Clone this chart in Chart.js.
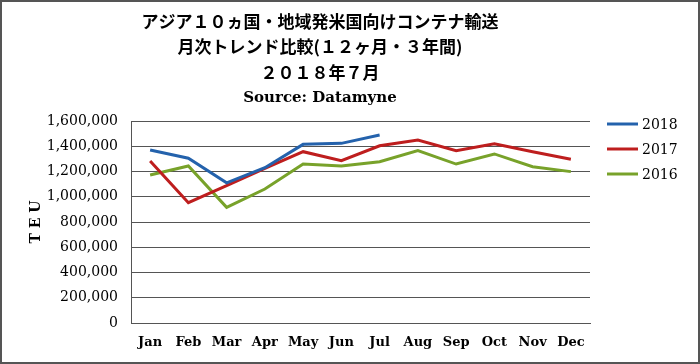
<!DOCTYPE html>
<html>
<head>
<meta charset="utf-8">
<script src="https://cdn.jsdelivr.net/npm/chart.js@4"></script>
<style>
    body { margin: 0; background: #fff; }
    #wrap { width: 700px; height: 364px; }
</style>
</head>
<body>
<div id="wrap"><canvas id="trendChart" width="700" height="364"></canvas></div>
<script>
const months = ['Jan', 'Feb', 'Mar', 'Apr', 'May', 'Jun', 'Jul', 'Aug', 'Sep', 'Oct', 'Nov', 'Dec'];
const values2018 = [1370000, 1305000, 1110000, 1230000, 1415000, 1423000, 1489000, null, null, null, null, null];
const values2017 = [1283000, 953000, 1088000, 1225000, 1357000, 1286000, 1404000, 1450000, 1365000, 1420000, 1357000, 1297000];
const values2016 = [1172000, 1244000, 916000, 1061000, 1259000, 1244000, 1278000, 1365000, 1259000, 1339000, 1238000, 1199000];
const yTicks = [0, 200000, 400000, 600000, 800000, 1000000, 1200000, 1400000, 1600000];
const titleLines = [
    'アジア１０ヵ国・地域発米国向けコンテナ輸送',
    '月次トレンド比較(１２ヶ月・３年間)',
    '２０１８年７月',
    'Source: Datamyne'
];

const serif = '"DejaVu Serif", "Liberation Serif", serif';
const jpFont = '"Noto Sans CJK JP", "DejaVu Serif", serif';

// title, legend and frame are drawn by hand to sit where the original has them
const decorPlugin = {
    id: 'decor',
    afterDraw(chart) {
        const ctx = chart.ctx;
        ctx.save();

        ctx.strokeStyle = '#555';
        ctx.lineWidth = 2;
        ctx.strokeRect(1, 1, 698, 362);

        ctx.fillStyle = '#000';
        ctx.textAlign = 'center';
        ctx.textBaseline = 'middle';
        const ys = [22, 47, 73, 98];
        titleLines.forEach((line, i) => {
            ctx.font = i === 3 ? 'bold 15px ' + serif : 'bold 17px ' + jpFont;
            ctx.fillText(line, 320, ys[i]);
        });

        ctx.textAlign = 'left';
        ctx.font = '14px ' + serif;
        chart.data.datasets.forEach((ds, i) => {
            const y = 124 + i * 25;
            ctx.strokeStyle = ds.borderColor;
            ctx.lineWidth = 3;
            ctx.beginPath();
            ctx.moveTo(607, y);
            ctx.lineTo(638, y);
            ctx.stroke();
            ctx.fillStyle = '#000';
            ctx.fillText(ds.label, 642, y + 1);
        });

        ctx.restore();
    }
};

new Chart(document.getElementById('trendChart'), {
    type: 'line',
    data: {
        labels: months,
        datasets: [
            { label: '2018', data: values2018, borderColor: '#2462AC', backgroundColor: '#2462AC' },
            { label: '2017', data: values2017, borderColor: '#BE1E1E', backgroundColor: '#BE1E1E' },
            { label: '2016', data: values2016, borderColor: '#78A22A', backgroundColor: '#78A22A' }
        ].map(ds => Object.assign(ds, { borderWidth: 3, pointRadius: 0, tension: 0, spanGaps: false }))
    },
    options: {
        responsive: false,
        animation: false,
        layout: { padding: { top: 121, right: 110, bottom: 0, left: 0 } },
        plugins: {
            legend: { display: false },
            title: { display: false },
            tooltip: { enabled: false }
        },
        scales: {
            x: {
                offset: true,
                grid: { display: false, drawTicks: false },
                border: { display: true, color: '#555', width: 1 },
                ticks: { color: '#000', padding: 12, font: { family: serif, size: 13, weight: 'bold' } },
                afterFit(scale) { scale.height = 41; }
            },
            y: {
                min: 0,
                max: 1600000,
                afterBuildTicks(scale) { scale.ticks = yTicks.map(v => ({ value: v })); },
                grid: { color: '#555', lineWidth: 1, drawTicks: false },
                border: { display: true, color: '#555', width: 1 },
                ticks: {
                    color: '#000',
                    padding: 13,
                    font: { family: serif, size: 14 },
                    callback: v => v.toLocaleString('en-US')
                },
                title: {
                    display: true,
                    text: 'T E U',
                    color: '#000',
                    font: { family: serif, size: 14, weight: 'bold' },
                    padding: { top: 28, bottom: 0 }
                },
                afterFit(scale) { scale.width = 131; }
            }
        }
    },
    plugins: [decorPlugin]
});
</script>
</body>
</html>
